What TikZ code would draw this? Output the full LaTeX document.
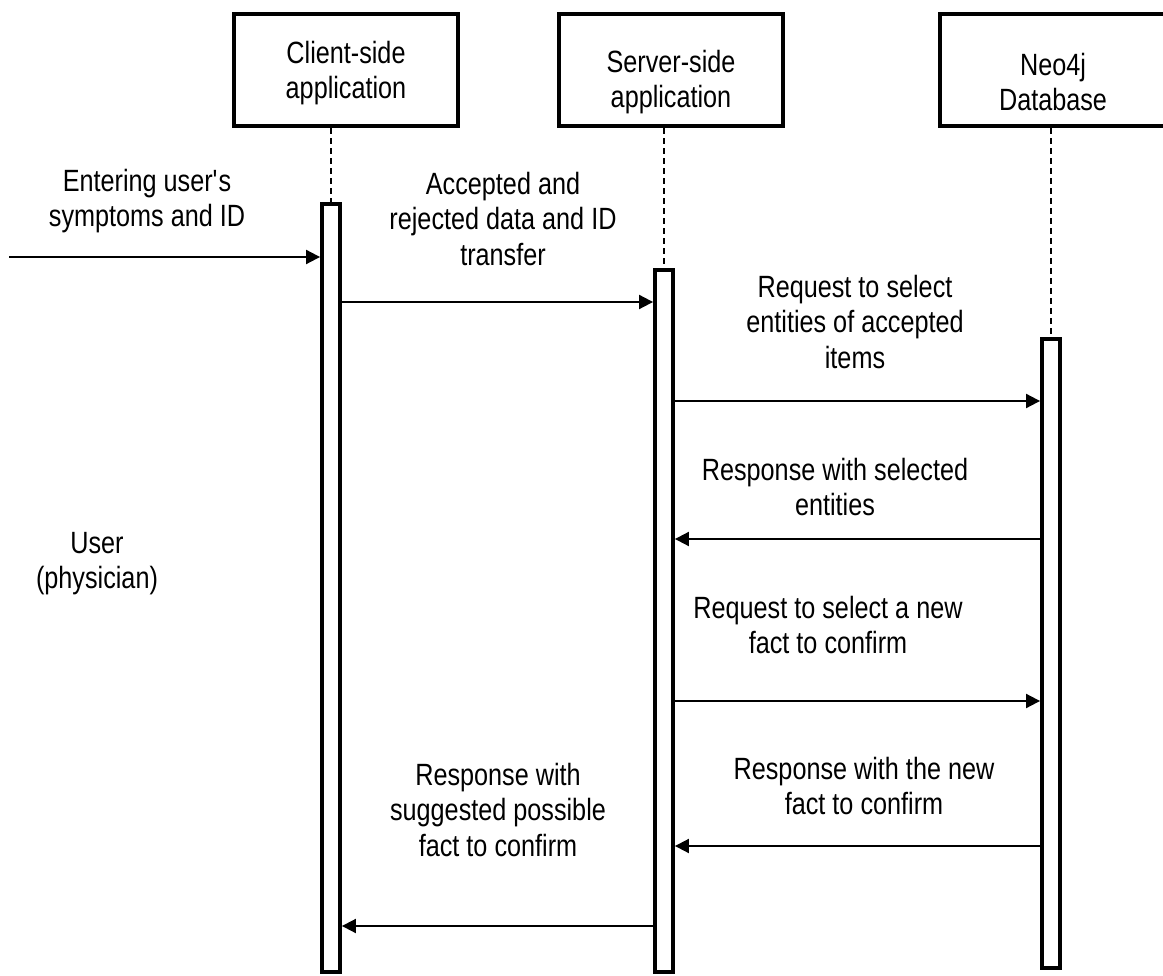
\documentclass[tikz,border=0pt]{standalone}
\usepackage{fontspec}
\setmainfont{Liberation Sans}[FakeStretch=0.82]
\usepackage{tikz}
\usetikzlibrary{positioning,calc,arrows.meta}

\tikzset{
    actor/.style={draw, line width=2.3pt, minimum width=4.48cm, minimum height=2.24cm},
    actbar/.style={draw, line width=2.2pt, fill=white, minimum width=0.36cm, inner sep=0pt},
    lifeline/.style={dash pattern=on 3.4pt off 2.3pt, line width=0.8pt},
    msg/.style={-{Triangle[length=0.28cm,width=0.28cm]}, line width=1.1pt},
    msglabel/.style={align=center}
}

\begin{document}
\begin{tikzpicture}[x=0.02cm, y=-0.02cm, font=\fontsize{17.5}{20}\selectfont]
    \path[use as bounding box, clip] (0,0) rectangle (1163,976);

    % Participants
    \node[actor, label={[msglabel, yshift=-0.06cm]center:Client-side\\application}] (client) at (346,70) {};
    \node[actor, label={[msglabel, yshift=-0.24cm]center:Server-side\\application}] (server) at (671,70) {};
    \node[actor, minimum width=4.8cm, label={[msglabel, xshift=-0.14cm, yshift=-0.24cm]center:Neo4j\\Database}] (neo) at (1060,70) {};

    % Activation bars
    \node[actbar, minimum height=15.36cm] (clientbar) at (331,588) {};
    \node[actbar, minimum height=14.04cm] (serverbar) at (664,621) {};
    \node[actbar, minimum height=12.58cm] (neobar) at (1051,653.5) {};

    % Lifelines
    \draw[lifeline] (clientbar.north |- client.south) -- (clientbar.north);
    \draw[lifeline] (serverbar.north |- server.south) -- (serverbar.north);
    \draw[lifeline] (neobar.north |- neo.south) -- (neobar.north);

    % User (physician)
    \node[msglabel] (userlbl) at (97,564) {User\\(physician)};
    \coordinate (user) at (9,257);
    \draw[msg] (user) -- (user -| clientbar.west);
    \node[msglabel] (enterlbl) at (147,201) {Entering user\textquotesingle s\\symptoms and ID};

    % Messages
    \draw[msg] (clientbar.east |- 0,302) -- (serverbar.west |- 0,302);
    \node[msglabel] (acceptlbl) at (503,219) {Accepted and\\rejected data and ID\\transfer};

    \draw[msg] (serverbar.east |- 0,401) -- (neobar.west |- 0,401);
    \node[msglabel] (selectlbl) at (855,322) {Request to select\\entities of accepted\\items};

    \draw[msg] (neobar.west |- 0,539) -- (serverbar.east |- 0,539);
    \node[msglabel] (entitylbl) at (835,487) {Response with selected\\entities};

    \draw[msg] (serverbar.east |- 0,701) -- (neobar.west |- 0,701);
    \node[msglabel] (factlbl) at (828,625) {Request to select a new\\fact to confirm};

    \draw[msg] (neobar.west |- 0,846) -- (serverbar.east |- 0,846);
    \node[msglabel] (newlbl) at (864,786) {Response with the new\\fact to confirm};

    \draw[msg] (serverbar.west |- 0,926) -- (clientbar.east |- 0,926);
    \node[msglabel] (suggestlbl) at (498,810) {Response with\\suggested possible\\fact to confirm};
\end{tikzpicture}
\end{document}
